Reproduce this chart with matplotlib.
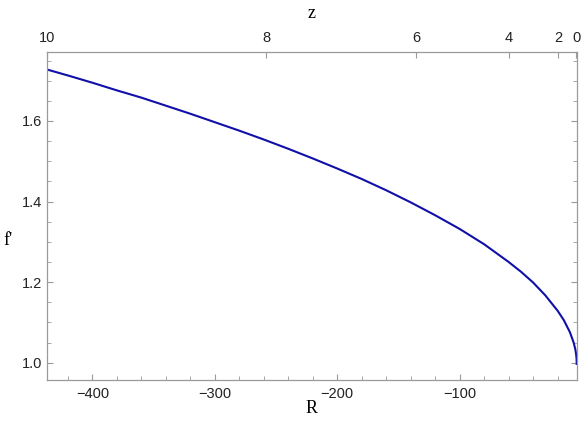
import numpy as np
import matplotlib
matplotlib.use("Agg")
import matplotlib.pyplot as plt
from matplotlib.ticker import MultipleLocator

# f' against R
R = [-437.3, -420, -400, -380, -360, -340, -320, -300, -280, -260, -240,
     -220, -200, -180, -160, -140, -120, -100, -80, -60, -50, -40, -30,
     -20, -15, -10, -7, -5.5, -4.8, -4.5, -4.4]
fprime = [1.728, 1.713, 1.695, 1.676, 1.658, 1.638, 1.618, 1.597, 1.576,
          1.554, 1.531, 1.507, 1.482, 1.456, 1.428, 1.398, 1.366, 1.332,
          1.294, 1.250, 1.226, 1.199, 1.167, 1.129, 1.106, 1.076, 1.051,
          1.033, 1.019, 1.009, 0.997]

# redshift ticks on the top axis and the R where each one sits
z_labels = ["10", "8", "6", "4", "2", "0"]
R_at_z = [-437.3, -258.2, -135.6, -59.9, -19.8, -4.6]

frame = "#9a9a9a"
sans = ["Liberation Sans", "DejaVu Sans"]
serif = ["Liberation Serif", "DejaVu Serif"]

fig = plt.figure(figsize=(5.81, 4.33), dpi=100)
ax = fig.add_axes([0.0804, 0.1224, 0.9122, 0.7568])

ax.plot(R, fprime, color="#1010a8", lw=1.5)
ax.set_xlim(-437.3, -4.4)
ax.set_ylim(0.957, 1.7705)

ax.xaxis.set_major_locator(MultipleLocator(100))
ax.xaxis.set_minor_locator(MultipleLocator(20))
ax.yaxis.set_major_locator(MultipleLocator(0.2))
ax.yaxis.set_minor_locator(MultipleLocator(0.05))
ax.yaxis.set_major_formatter(plt.FormatStrFormatter("%.1f"))

ax.tick_params(which="both", direction="in", color=frame, labelsize=10.5,
               labelcolor="#222222", bottom=True, left=True, right=True, top=False)
ax.tick_params(which="major", length=4.5, width=0.8)
ax.tick_params(which="minor", length=3, width=0.6)
ax.tick_params(axis="x", pad=5)
ax.tick_params(axis="y", pad=3)
for lab in ax.get_xticklabels() + ax.get_yticklabels():
    lab.set_family(sans)
for sp in ax.spines.values():
    sp.set_color(frame)
    sp.set_linewidth(0.9)

top = ax.twiny()
top.set_xlim(ax.get_xlim())
top.set_xticks(R_at_z)
top.set_xticklabels(z_labels, family=sans)
top.tick_params(direction="in", color=frame, length=4.5, width=0.8,
                labelsize=10.5, labelcolor="#222222", pad=5)
for sp in top.spines.values():
    sp.set_visible(False)

fig.text(0.537, 0.056, "R", family=serif, fontsize=13, ha="center", va="center")
fig.text(0.013, 0.445, "f'", family=serif, fontsize=13, ha="center", va="center")
fig.text(0.537, 0.968, "z", family=serif, fontsize=13, ha="center", va="center")

fig.savefig("out.png", dpi=100)
